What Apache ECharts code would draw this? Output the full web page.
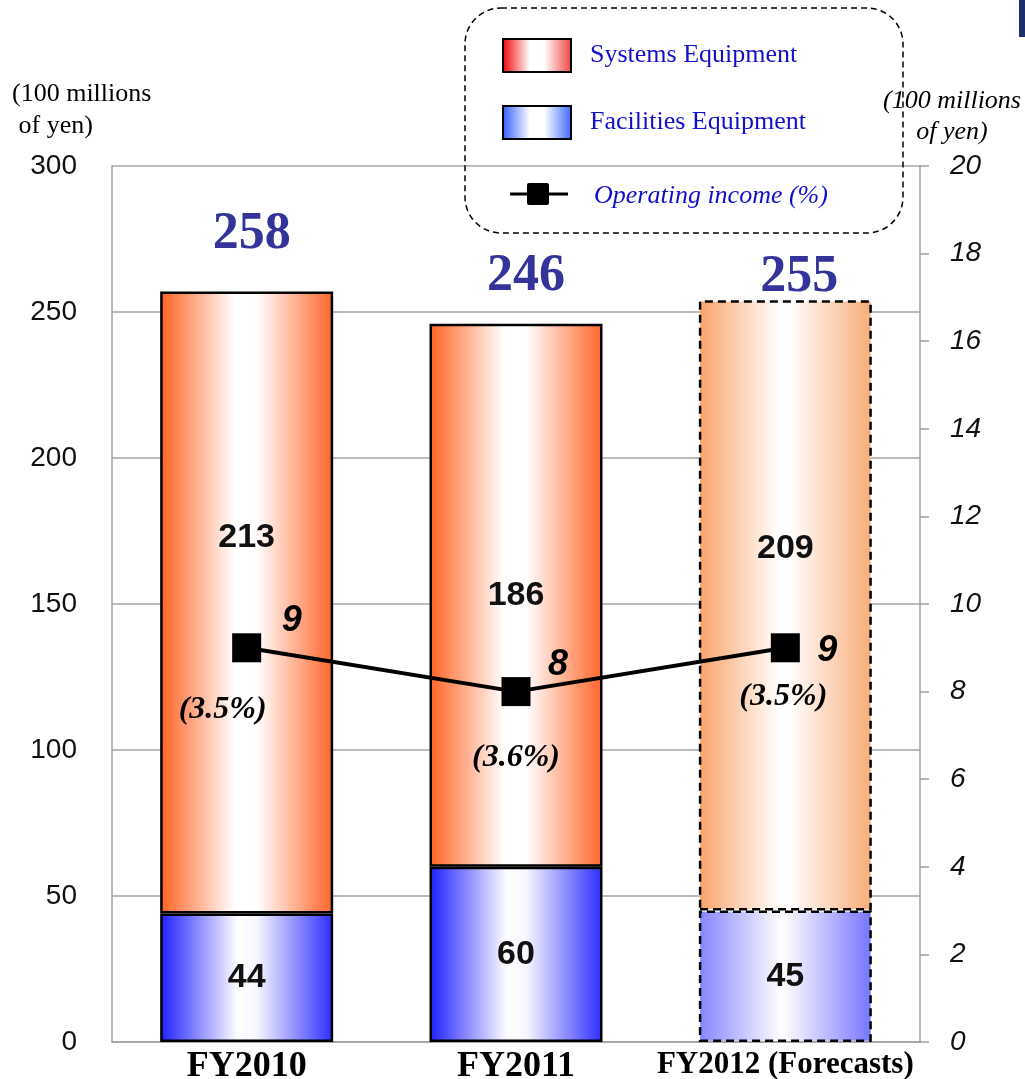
<!DOCTYPE html>
<html>
<head>
<meta charset="utf-8">
<script src="https://cdn.jsdelivr.net/npm/echarts@6/dist/echarts.min.js"></script>
<style>
  html, body { margin: 0; padding: 0; background: #fff; }
  #chart { width: 1025px; height: 1079px; }
</style>
</head>
<body>
<div id="chart"></div>
<script>
// Net sales by segment (100 millions of yen) and operating income
var categories = ['FY2010', 'FY2011', 'FY2012 (Forecasts)'];
var facilities = [44, 60, 45];
var systems = [213, 186, 209];
var totals = [258, 246, 255];
var income = [9, 8, 9];
var incomeRatio = ['3.5', '3.6', '3.5'];
var leftTicks = { min: 0, max: 300, interval: 50 };
var rightTicks = { min: 0, max: 20, interval: 2 };

// label placement tweaks per column
var systemsLabelOffset = [[0, -65], [0, 0], [0, -57]];
var totalLabelOffset = [[5, -57], [10, -47], [14, -23]];
var incomeLabelOffset = [[45, -27], [42, -27], [42, 3]];
var ratioLabelOffset = [[-24, 62], [0, 66], [-2, 49]];
var forecastIndex = 2;

function hGrad(stops) {
  return new echarts.graphic.LinearGradient(0, 0, 1, 0,
    stops.map(function (s) { return { offset: s[0], color: s[1] }; }));
}
var sysFill = hGrad([[0, '#FF6222'], [0.43, '#FFFFFF'], [0.56, '#FFFFFF'], [1, '#FF6426']]);
var sysFillF = hGrad([[0, '#F9A46A'], [0.47, '#FFFFFF'], [0.52, '#FFFFFF'], [1, '#F9AC78']]);
var facFill = hGrad([[0, '#1E1EFF'], [0.45, '#FFFFFF'], [0.56, '#F6F6FF'], [1, '#2C2CFF']]);
var facFillF = hGrad([[0, '#8484FF'], [0.48, '#FFFFFF'], [0.53, '#F4F4FF'], [1, '#7474FF']]);

var solidBorder = { borderColor: '#000', borderWidth: 2.5, borderType: 'solid' };
var dashedBorder = { borderColor: '#000', borderWidth: 2.5, borderType: [8, 5] };

function barData(values, fill, fillF, offsets) {
  return values.map(function (v, i) {
    var f = i === forecastIndex;
    var item = {
      value: v,
      itemStyle: Object.assign({ color: f ? fillF : fill }, f ? dashedBorder : solidBorder)
    };
    if (offsets) item.label = { offset: offsets[i] };
    return item;
  });
}

var barLabel = {
  show: true, position: 'inside', color: '#111',
  fontFamily: 'Liberation Sans', fontWeight: 'bold', fontSize: 34
};

var chart = echarts.init(document.getElementById('chart'), null, { renderer: 'canvas' });

chart.setOption({
  animation: false,
  backgroundColor: '#fff',
  grid: { left: 112, right: 105, top: 166, bottom: 37, containLabel: false, outerBoundsMode: 'none' },
  xAxis: {
    type: 'category',
    data: categories,
    axisLine: { show: true, lineStyle: { color: '#A0A0A0', width: 1.5 } },
    axisTick: { show: false },
    axisLabel: {
      margin: 7,
      formatter: function (v, i) { return i === forecastIndex ? '{f|' + v + '}' : '{a|' + v + '}'; },
      rich: {
        a: { fontFamily: 'Liberation Serif', fontWeight: 'bold', fontSize: 36, color: '#000' },
        f: { fontFamily: 'Liberation Serif', fontWeight: 'bold', fontSize: 31, color: '#000' }
      }
    }
  },
  yAxis: [
    {
      type: 'value', min: leftTicks.min, max: leftTicks.max, interval: leftTicks.interval,
      axisLine: { show: true, lineStyle: { color: '#A0A0A0', width: 1.5 } },
      axisTick: { show: false },
      splitLine: { show: true, lineStyle: { color: '#A6A6A6', width: 1.5 } },
      axisLabel: { margin: 35, color: '#111', fontFamily: 'Liberation Sans', fontSize: 28 }
    },
    {
      type: 'value', min: rightTicks.min, max: rightTicks.max, interval: rightTicks.interval,
      position: 'right',
      axisLine: { show: true, lineStyle: { color: '#A0A0A0', width: 1.5 } },
      axisTick: { show: true, inside: false, length: 9, lineStyle: { color: '#A0A0A0', width: 1.5 } },
      splitLine: { show: false },
      axisLabel: { margin: 30, color: '#111', fontFamily: 'Liberation Sans', fontStyle: 'italic', fontSize: 28 }
    }
  ],
  series: [
    {
      name: 'Facilities Equipment', type: 'bar', stack: 'sales', barWidth: 173,
      data: barData(facilities, facFill, facFillF),
      label: barLabel
    },
    {
      name: 'Systems Equipment', type: 'bar', stack: 'sales', barWidth: 173,
      data: barData(systems, sysFill, sysFillF, systemsLabelOffset),
      label: barLabel
    },
    {
      name: 'Operating income (%)', type: 'line', yAxisIndex: 1, z: 5,
      symbol: 'rect', symbolSize: 29,
      lineStyle: { color: '#000', width: 4 },
      itemStyle: { color: '#000' },
      data: income.map(function (v, i) { return { value: v, label: { offset: incomeLabelOffset[i] } }; }),
      label: {
        show: true, position: 'inside', color: '#000',
        fontFamily: 'Liberation Sans', fontWeight: 'bold', fontStyle: 'italic', fontSize: 36
      }
    },
    {
      name: 'ratio', type: 'scatter', yAxisIndex: 1, z: 6,
      symbolSize: 1, itemStyle: { color: 'rgba(0,0,0,0)', opacity: 1 },
      data: income.map(function (v, i) { return { value: v, label: { offset: ratioLabelOffset[i] } }; }),
      label: {
        show: true, position: 'inside', color: '#000', opacity: 1,
        formatter: function (p) { return '(' + incomeRatio[p.dataIndex] + '%)'; },
        fontFamily: 'Liberation Serif', fontWeight: 'bold', fontStyle: 'italic', fontSize: 32
      }
    },
    {
      name: 'total', type: 'scatter', yAxisIndex: 0, z: 6,
      symbolSize: 1, itemStyle: { color: 'rgba(0,0,0,0)', opacity: 1 },
      data: facilities.map(function (v, i) { return { value: v + systems[i], label: { offset: totalLabelOffset[i] } }; }),
      label: {
        show: true, position: 'inside', color: '#333399', opacity: 1,
        formatter: function (p) { return String(totals[p.dataIndex]); },
        fontFamily: 'Liberation Serif', fontWeight: 'bold', fontSize: 52
      }
    }
  ],
  graphic: [
    // axis units
    { type: 'text', left: 12, top: 78, style: {
      text: '(100 millions\n of yen)', fill: '#000', font: '26px "Liberation Serif"', lineHeight: 32 } },
    { type: 'text', x: 952, y: 86, style: {
      text: '(100 millions\nof yen)', fill: '#000', font: 'italic 26px "Liberation Serif"',
      lineHeight: 31, align: 'center' } },
    // legend frame
    { type: 'rect', shape: { x: 465, y: 8, width: 438, height: 225, r: 36 },
      style: { fill: 'rgba(255,255,255,0)', stroke: '#000', lineWidth: 1.5, lineDash: [6, 4] }, z: 10 },
    { type: 'rect', shape: { x: 503, y: 39, width: 68, height: 33 },
      style: { fill: hGrad([[0, '#F00000'], [0.4, '#FFFFFF'], [0.6, '#FFFFFF'], [1, '#F04040']]), stroke: '#000', lineWidth: 2 }, z: 10 },
    { type: 'text', left: 590, top: 42, z: 10, style: {
      text: 'Systems Equipment', fill: '#1010CC', font: '26px "Liberation Serif"' } },
    { type: 'rect', shape: { x: 503, y: 106, width: 68, height: 33 },
      style: { fill: hGrad([[0, '#2E5BFF'], [0.4, '#FFFFFF'], [0.6, '#FFFFFF'], [1, '#3A66FF']]), stroke: '#000', lineWidth: 2 }, z: 10 },
    { type: 'text', left: 590, top: 109, z: 10, style: {
      text: 'Facilities Equipment', fill: '#1010CC', font: '26px "Liberation Serif"' } },
    { type: 'line', shape: { x1: 510, y1: 194, x2: 568, y2: 194 },
      style: { stroke: '#000', lineWidth: 3 }, z: 10 },
    { type: 'rect', shape: { x: 527, y: 183, width: 22, height: 22, r: 2 },
      style: { fill: '#000' }, z: 10 },
    { type: 'text', left: 594, top: 183, z: 10, style: {
      text: 'Operating income (%)', fill: '#1010CC', font: 'italic 26px "Liberation Serif"' } },
    // corner strip
    { type: 'rect', shape: { x: 1019, y: 0, width: 6, height: 37 }, style: { fill: '#1F2F6A' } }
  ]
});
</script>
</body>
</html>
